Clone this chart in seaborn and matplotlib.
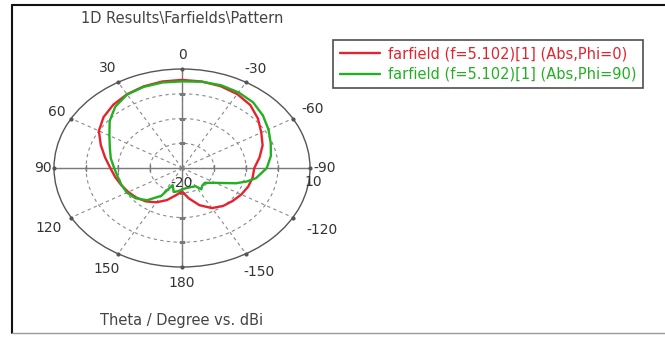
import numpy as np
import pandas as pd
import matplotlib
matplotlib.use("Agg")
import matplotlib.pyplot as plt
from matplotlib.lines import Line2D
import seaborn as sns

# Farfield cut data: theta in degrees, gain in dBi
theta_phi0 = [-180, -170, -160, -150, -140, -130, -120, -110, -100, -90, -80, -70,
              -60, -50, -40, -30, -20, -10, 0, 10, 20, 30, 40, 50, 60, 70, 80, 90,
              100, 110, 120, 130, 140, 150, 160, 170, 180]
gain_phi0 = [-20.5, -17.5, -14.0, -11.3, -10.0, -9.3, -8.6, -8.0, -7.6, -7.4, -5.4, -3.2,
             -1.4, 1.0, 3.2, 4.5, 5.2, 5.5, 5.6, 5.5, 5.1, 4.4, 3.4, 2.0, 0.0, -3.0, -5.6, -7.6,
             -8.8, -9.8, -10.6, -11.4, -12.4, -14.0, -16.2, -18.8, -20.5]

theta_phi90 = [-180, -170, -160, -150, -145, -138, -130, -120, -110, -105, -100, -90,
               -80, -70, -60, -50, -40, -30, -20, -10, 0, 10, 20, 30, 40, 45, 50, 60,
               70, 80, 90, 100, 110, 120, 130, 140, 150, 157, 165, 172, 180]
gain_phi90 = [-21.3, -21.8, -21.8, -21.5, -19.5, -20.5, -20.7, -18.0, -12.0, -9.0, -6.5, -3.5,
              -1.8, -0.5, 1.2, 3.0, 4.6, 5.3, 5.6, 5.4, 5.0, 5.1, 4.9, 4.3, 2.4, 0.8, -0.5, -3.8,
              -6.0, -7.4, -8.8, -9.6, -9.9, -10.1, -11.0, -13.0, -17.0, -22.5, -20.0, -20.5, -21.3]

series_labels = ["farfield (f=5.102)[1] (Abs,Phi=0)",
                 "farfield (f=5.102)[1] (Abs,Phi=90)"]
series_colors = ["#e6222e", "#22b022"]

angle_ticks = [0, 30, 60, 90, 120, 150, 180, 210, 240, 270, 300, 330]
angle_labels = ["0", "30", "60", "90", "120", "150", "180",
                "-150", "-120", "-90", "-60", "-30"]
r_min, r_max = -30, 10
ring_values = [-20, -10, 0]

title_text = "1D Results\\Farfields\\Pattern"
xlabel_text = "Theta / Degree vs. dBi"

df = pd.concat([
    pd.DataFrame({"theta": np.deg2rad(theta_phi0), "gain": gain_phi0, "series": series_labels[0]}),
    pd.DataFrame({"theta": np.deg2rad(theta_phi90), "gain": gain_phi90, "series": series_labels[1]}),
])

sns.set_style("white")
plt.rcParams["font.family"] = ["DejaVu Sans"]

fig = plt.figure(figsize=(6.65, 3.37), dpi=100)
ax = fig.add_axes([0.0812, 0.2077, 0.385, 0.5875], projection="polar")
ax.set_aspect("auto")
ax.set_theta_zero_location("N")
ax.set_theta_direction(1)
ax.set_ylim(r_min, r_max)

sns.lineplot(data=df, x="theta", y="gain", hue="series", palette=series_colors,
             hue_order=series_labels, ax=ax, linewidth=1.7, legend=False, sort=True)

# grid: dashed rings and spokes, solid main axes
ax.set_rgrids(ring_values, labels=[""] * len(ring_values))
ax.set_thetagrids(angle_ticks, labels=[""] * len(angle_ticks))
ax.grid(True, color="#8a8a8a", linestyle=(0, (3, 3)), linewidth=0.8)
for a in [0, 90, 180, 270]:
    ax.axvline(np.deg2rad(a), color="#7a7a7a", linewidth=1.0, zorder=1)
for a in [90, 270, 0, 180]:
    ax.plot([np.deg2rad(a)] * len(ring_values), ring_values, ls="",
            marker="|" if a in (90, 270) else "_",
            markersize=5, color="#7a7a7a", zorder=1)
ax.plot(np.deg2rad(angle_ticks), [r_max] * len(angle_ticks), ls="", marker="o",
        markersize=2, color="#555555", zorder=2, clip_on=False)
ax.spines["polar"].set_color("#555555")
ax.spines["polar"].set_linewidth(1.0)
ax.set_xlabel("")
ax.set_ylabel("")

# angle labels placed just outside the outer ring
label_offsets = {0: 5.7, 30: 6.7, 60: 5.2, 90: 3.4, 120: 8.2, 150: 7.3,
                 180: 6.5, 210: 8.4, 240: 10.4, 270: 4.7, 300: 7.3, 330: 6.0}
for a, lab in zip(angle_ticks, angle_labels):
    ax.text(np.deg2rad(a), r_max + label_offsets[a], lab, fontsize=10, color="#333333",
            ha="center", va="center", clip_on=False)

# radial scale labels
ax.text(np.deg2rad(-98), 11.4, "10", fontsize=10, color="#333333", ha="center", va="center",
        clip_on=False)
ax.text(np.pi, -24, "-20", fontsize=10, color="#333333", ha="center", va="center")

fig.text(182 / 665, 1 - 18 / 337, title_text, ha="center", va="center", fontsize=10.5, color="#444444")
fig.text(182 / 665, 1 - 320 / 337, xlabel_text, ha="center", va="center", fontsize=10.5, color="#444444")

handles = [Line2D([0], [0], color=c, linewidth=1.7) for c in series_colors]
leg = fig.legend(handles, series_labels, loc="upper left",
                 bbox_to_anchor=(333 / 665, 1 - 40 / 337), fontsize=10.5,
                 frameon=True, fancybox=False, handlelength=2.8, handletextpad=0.5,
                 labelspacing=0.35, borderpad=0.45, borderaxespad=0.0,
                 labelcolor="linecolor")
leg.get_frame().set_edgecolor("#222222")
leg.get_frame().set_linewidth(1.2)

# outer frame
fig.add_artist(Line2D([12 / 665, 1.0], [1 - 5 / 337, 1 - 5 / 337], transform=fig.transFigure,
                      color="#111111", linewidth=1.5))
fig.add_artist(Line2D([12 / 665, 12 / 665], [1 - 5 / 337, 1 - 333 / 337], transform=fig.transFigure,
                      color="#111111", linewidth=1.5))
fig.add_artist(Line2D([12 / 665, 1.0], [1 - 333 / 337, 1 - 333 / 337], transform=fig.transFigure,
                      color="#999999", linewidth=1.0))

fig.savefig("out.png", dpi=100)
